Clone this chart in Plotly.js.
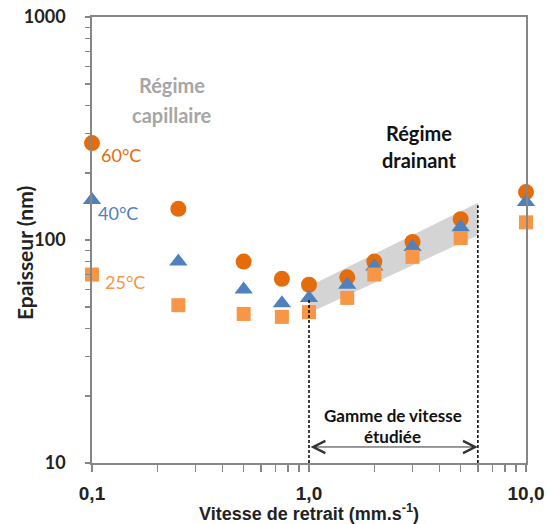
<!DOCTYPE html>
<html>
<head>
<meta charset="utf-8">
<script src="https://cdn.plot.ly/plotly-3.0.1.min.js"></script>
<style>html,body{margin:0;padding:0;background:#fff;}#chart{width:547px;height:524px;}</style>
</head>
<body>
<div id="chart"></div>
<script>
// ---- data ----
const vitesse = [0.1, 0.25, 0.5, 0.75, 1.0, 1.5, 2.0, 3.0, 5.0, 10.0];
const ep60 = [272, 138, 80, 67, 63, 68, 80, 98, 124, 164];
const ep40 = [151, 80, 60, 52, 55, 63, 76, 93, 114, 148];
const ep25 = [70, 51, 46.6, 45.2, 47.5, 55, 70, 84, 102, 120];

// drainage regime band (studied speed range)
const bandX = [1.0, 6.0, 6.0, 1.0, 1.0];
const bandY = [47, 105, 147, 62, 47];
const gammeMin = 1.0, gammeMax = 6.0;
const gammeLeftTop = 55, gammeRightTop = 143, gammeBottom = 10;
const arrowY = 11.8;

// ticks
const xTickVals = [0.1,0.2,0.3,0.4,0.5,0.6,0.7,0.8,0.9,1,2,3,4,5,6,7,8,9,10];
const xTickText = ['0,1','','','','','','','','','1,0','','','','','','','','','10,0'];
const yTickVals = [10,20,30,40,50,60,70,80,90,100,200,300,400,500,600,700,800,900,1000];
const yTickText = ['10','','','','','','','','','100','','','','','','','','','1000'];

const cOrange = '#E46C0A', cBlue = '#4F81BD', cLight = '#F79646';

const traces = [
  {x: bandX, y: bandY, type: 'scatter', mode: 'lines', fill: 'toself',
   fillcolor: '#D4D4D4', line: {width: 0, color: 'rgba(0,0,0,0)'}, hoverinfo: 'skip', showlegend: false},
  {x: vitesse, y: ep60, type: 'scatter', mode: 'markers', name: '60°C', cliponaxis: false,
   marker: {symbol: 'circle', size: 16, color: cOrange}},
  {x: vitesse, y: ep40, type: 'scatter', mode: 'markers', name: '40°C', cliponaxis: false,
   marker: {symbol: 'triangle-up', size: 16, color: cBlue}},
  {x: vitesse, y: ep25, type: 'scatter', mode: 'markers', name: '25°C', cliponaxis: false,
   marker: {symbol: 'square', size: 14, color: cLight}},
  {x: [gammeMin, gammeMin], y: [gammeBottom, gammeLeftTop], type: 'scatter', mode: 'lines',
   line: {color: '#000', width: 1.5, dash: '3px,2px'}, hoverinfo: 'skip', showlegend: false},
  {x: [gammeMax, gammeMax], y: [gammeBottom, gammeRightTop], type: 'scatter', mode: 'lines',
   line: {color: '#000', width: 1.5, dash: '3px,2px'}, hoverinfo: 'skip', showlegend: false}
];

const axisCol = '#868686';
const lato = 'Lato, "Open Sans", sans-serif';
const arial = '"Liberation Sans", Arial, sans-serif';

function txt(text, x, y, size, color, weight) {
  return {text: text, xref: 'paper', yref: 'paper', x: x, y: y, xanchor: 'center', yanchor: 'middle',
          showarrow: false, font: {family: lato, size: size, color: color, weight: weight}};
}

const layout = {
  width: 547, height: 524,
  margin: {l: 92, r: 21, t: 17, b: 61},
  paper_bgcolor: '#fff', plot_bgcolor: '#fff',
  showlegend: false,
  xaxis: {
    type: 'log', range: [-1, 1], showgrid: false, zeroline: false,
    showline: true, linecolor: axisCol, linewidth: 1.8, mirror: true,
    ticks: 'outside', ticklen: 7, tickwidth: 1.3, tickcolor: axisCol,
    tickmode: 'array', tickvals: xTickVals, ticktext: xTickText,
    ticklabelstandoff: 5,
    tickfont: {family: arial, size: 19, color: '#222', weight: 'bold'},
    title: {text: 'Vitesse de retrait (mm.s<sup>-1</sup>)', standoff: 0,
            font: {family: arial, size: 18, color: '#222', weight: 'bold'}},
    automargin: false
  },
  yaxis: {
    type: 'log', range: [1, 3], showgrid: false, zeroline: false,
    showline: true, linecolor: axisCol, linewidth: 1.8, mirror: true,
    ticks: 'outside', ticklen: 5, tickwidth: 1.3, tickcolor: axisCol,
    tickmode: 'array', tickvals: yTickVals, ticktext: yTickText,
    ticklabelstandoff: 16,
    tickfont: {family: lato, size: 18, color: '#222', weight: 'bold'},
    automargin: false
  },
  annotations: [
    {text: 'Epaisseur (nm)', xref: 'paper', yref: 'paper', x: -0.154, y: 0.471, textangle: -90,
     xanchor: 'center', yanchor: 'middle', showarrow: false,
     font: {family: lato, size: 21, color: '#222', weight: 'bold'}},
    txt('Régime', 0.184, 0.8475, 20, '#A6A6A6', 'bold'),
    txt('capillaire', 0.184, 0.780, 20, '#A6A6A6', 'bold'),
    txt('Régime', 0.7535, 0.740, 20, '#111', 'bold'),
    txt('drainant', 0.7535, 0.679, 20, '#111', 'bold'),
    txt('60°C', 0.0668, 0.6906, 18, cOrange, 'normal'),
    txt('40°C', 0.0599, 0.5605, 18, cBlue, 'normal'),
    txt('25°C', 0.076, 0.4058, 18, cLight, 'normal'),
    txt('Gamme de vitesse', 0.6935, 0.1076, 17, '#111', 'bold'),
    txt('étudiée', 0.6935, 0.0605, 17, '#111', 'bold'),
    {x: Math.log10(gammeMax), y: Math.log10(arrowY), ax: Math.log10(gammeMin), ay: Math.log10(arrowY),
     xref: 'x', yref: 'y', axref: 'x', ayref: 'y', text: '', showarrow: true,
     arrowhead: 5, startarrowhead: 5, arrowside: 'end+start', arrowsize: 2.4, startarrowsize: 2.4,
     arrowwidth: 1, arrowcolor: '#333', standoff: 0, startstandoff: 0}
  ]
};

Plotly.newPlot('chart', traces, layout, {displayModeBar: false, staticPlot: true});
</script>
</body>
</html>
